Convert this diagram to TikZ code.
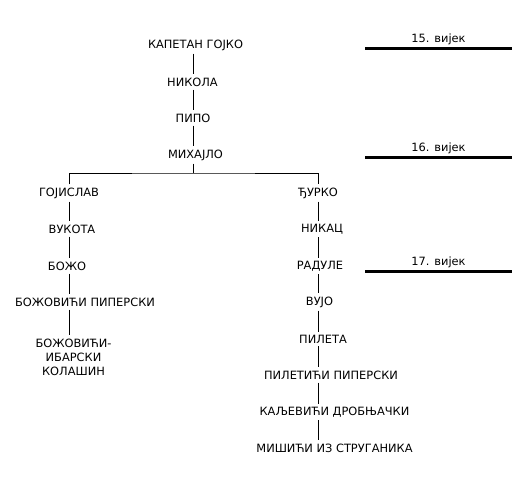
\documentclass[tikz,border=0pt]{standalone}
\usepackage{fontspec}
\setmainfont{DejaVu Sans}
\usepackage{tikz}
\usetikzlibrary{positioning}
\tikzset{
  person/.style={font=\fontsize{11.4}{14}\selectfont,inner sep=3pt,align=center},
  link/.style={line width=0.7pt},
  century/.style={line width=3pt},
  clabel/.style={font=\fontsize{11.4}{12}\selectfont,above,inner sep=2.5pt}
}
\begin{document}
\begin{tikzpicture}[x=1pt,y=-1pt]
\useasboundingbox (0,0) rectangle (524,502);
% Main line
\node[person] (gojko) at (195.5,45) {КАПЕТАН ГОЈКО};
\node[person] (nikola) at (192.5,82) {НИКОЛА};
\node[person] (pipo) at (193,118) {ПИПО};
\node[person] (mihajlo) at (195.5,155) {МИХАЈЛО};
\coordinate (fork) at (193,173);
\coordinate (lstem) at (69,173);
\coordinate (rstem) at (318,173);
% Left branch
\node[person] (gojislav) at (69,193) {ГОЈИСЛАВ};
\node[person] (vukota) at (72,229) {ВУКОТА};
\node[person] (bozo) at (67,266) {БОЖО};
\node[person] (bozovici) at (85,302) {БОЖОВИЋИ ПИПЕРСКИ};
\node[person] (ibarski) at (73.5,357) {БОЖОВИЋИ-\\ИБАРСКИ\\КОЛАШИН};
% Right branch
\node[person] (djurko) at (318,193) {ЂУРКО};
\node[person] (nikac) at (322,229) {НИКАЦ};
\node[person] (radule) at (320,266) {РАДУЛЕ};
\node[person] (vujo) at (319.5,302) {ВУЈО};
\node[person] (pileta) at (323,339) {ПИЛЕТА};
\node[person] (piletici) at (331,375) {ПИЛЕТИЋИ ПИПЕРСКИ};
\node[person] (kaljevici) at (334.5,412) {КАЉЕВИЋИ ДРОБЊАЧКИ};
\node[person] (misici) at (334.5,448) {МИШИЋИ ИЗ СТРУГАНИКА};
% Links
\foreach \a/\b in {gojko/nikola,nikola/pipo,pipo/mihajlo}
  \draw[link] (\a.south -| fork) -- (\b.north -| fork);
\draw[link] (mihajlo.south -| fork) -- (fork);
\draw[link] (gojislav.north -| lstem) |- (fork) -| (djurko.north -| rstem);
\foreach \a/\b in {gojislav/vukota,vukota/bozo,bozo/bozovici,bozovici/ibarski}
  \draw[link] (\a.south -| lstem) -- (\b.north -| lstem);
\foreach \a/\b in {djurko/nikac,nikac/radule,radule/vujo,vujo/pileta,
    pileta/piletici,piletici/kaljevici,kaljevici/misici}
  \draw[link] (\a.south -| rstem) -- (\b.north -| rstem);
% Centuries
\draw[century] (365,49) -- node[clabel] {15. вијек} (512,49);
\draw[century] (365,158) -- node[clabel] {16. вијек} (512,158);
\draw[century] (365,272) -- node[clabel] {17. вијек} (512,272);
\end{tikzpicture}
\end{document}
